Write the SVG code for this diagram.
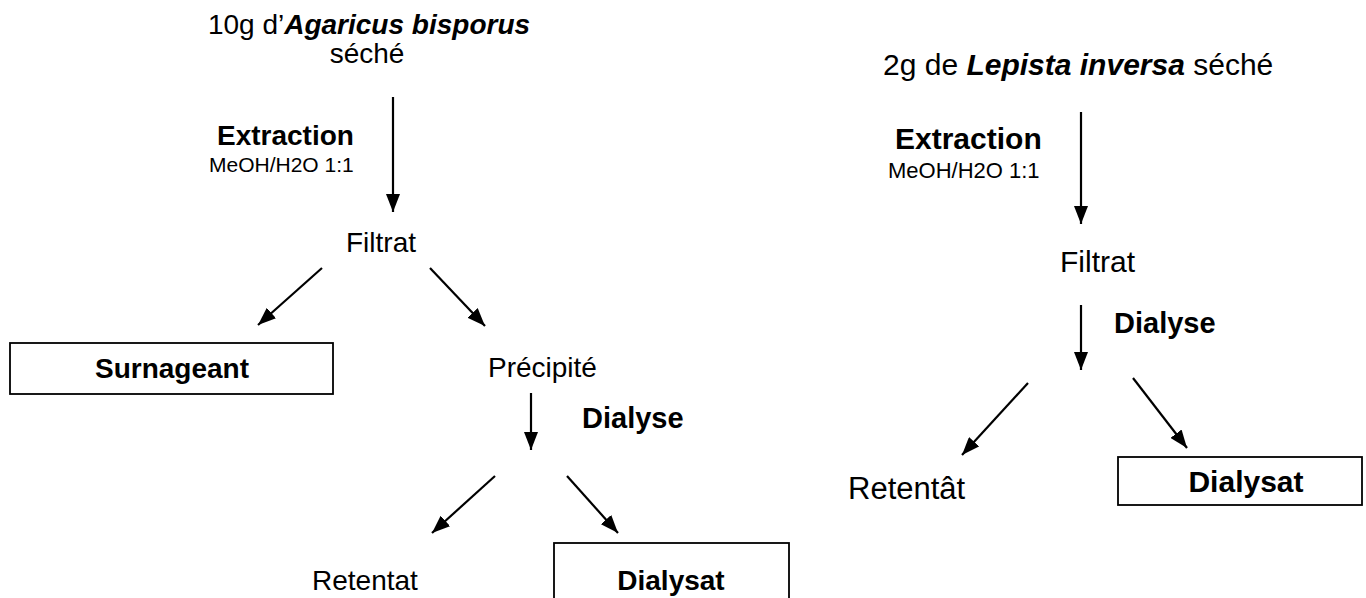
<svg xmlns="http://www.w3.org/2000/svg" width="1366" height="598" viewBox="0 0 1366 598">
<style>
text{font-family:"Liberation Sans",Arial,sans-serif;fill:#000}
.t{font-size:28px}
.b{font-size:28px;font-weight:bold}
.s{font-size:21px}
.r{font-size:30px}
.rb{font-size:30px;font-weight:bold}
.rs{font-size:22px}
.bi{font-weight:bold;font-style:italic}
.c{text-anchor:middle}
.box{fill:#fff;stroke:#000;stroke-width:1.8}
.ar{stroke:#000;stroke-width:2.2;fill:none;marker-end:url(#ah)}
</style>
<defs>
<marker id="ah" markerUnits="userSpaceOnUse" markerWidth="19" markerHeight="14" refX="18" refY="7" orient="auto">
<path d="M0,0 L18,7 L0,14 z" fill="#000"/>
</marker>
</defs>
<rect width="1366" height="598" fill="#fff"/>
<g id="connectors">
<line class="ar" x1="393" y1="97" x2="393" y2="212"/>
<line class="ar" x1="322" y1="268" x2="258" y2="325"/>
<line class="ar" x1="430" y1="268" x2="485" y2="326"/>
<line class="ar" x1="531" y1="393" x2="531" y2="450"/>
<line class="ar" x1="495" y1="476" x2="432" y2="533"/>
<line class="ar" x1="567" y1="476" x2="618" y2="533"/>
<line class="ar" x1="1081" y1="112" x2="1081" y2="224"/>
<line class="ar" x1="1081" y1="305" x2="1081" y2="370"/>
<line class="ar" x1="1028" y1="383" x2="962" y2="455"/>
<line class="ar" x1="1133" y1="378" x2="1187" y2="448"/>
</g>
<g id="agaricus"><text class="t c" x="369" y="34">10g d’<tspan class="bi">Agaricus bisporus</tspan></text><text class="t c" x="367" y="63">séché</text></g>
<g id="extraction1"><text class="b" x="217" y="145">Extraction</text><text class="s" x="209" y="172">MeOH/H2O 1:1</text></g>
<g id="filtrat1"><text class="t" x="346" y="252">Filtrat</text></g>
<g id="surnageant"><rect class="box" x="10" y="343" width="323" height="51"/><text class="b c" x="172" y="378">Surnageant</text></g>
<g id="precipite"><text class="t" x="488" y="377">Précipité</text></g>
<g id="dialyse1"><text class="b" x="582" y="428" style="font-size:29px">Dialyse</text></g>
<g id="retentat1"><text class="t" x="312" y="590">Retentat</text></g>
<g id="dialysat1"><rect class="box" x="554" y="543" width="235" height="70"/><text class="b c" x="671" y="590">Dialysat</text></g>
<g id="lepista"><text class="r" x="883" y="75">2g de <tspan class="bi">Lepista inversa</tspan> séché</text></g>
<g id="extraction2"><text class="rb" x="895" y="149">Extraction</text><text class="rs" x="888" y="178">MeOH/H2O 1:1</text></g>
<g id="filtrat2"><text class="r" x="1060" y="272">Filtrat</text></g>
<g id="dialyse2"><text class="rb" x="1114" y="333" style="font-size:29px">Dialyse</text></g>
<g id="retentat2"><text class="r" x="848" y="499" style="font-size:31px">Retentât</text></g>
<g id="dialysat2"><rect class="box" x="1118" y="457" width="244" height="48"/><text class="rb c" x="1246" y="492">Dialysat</text></g>
</svg>
